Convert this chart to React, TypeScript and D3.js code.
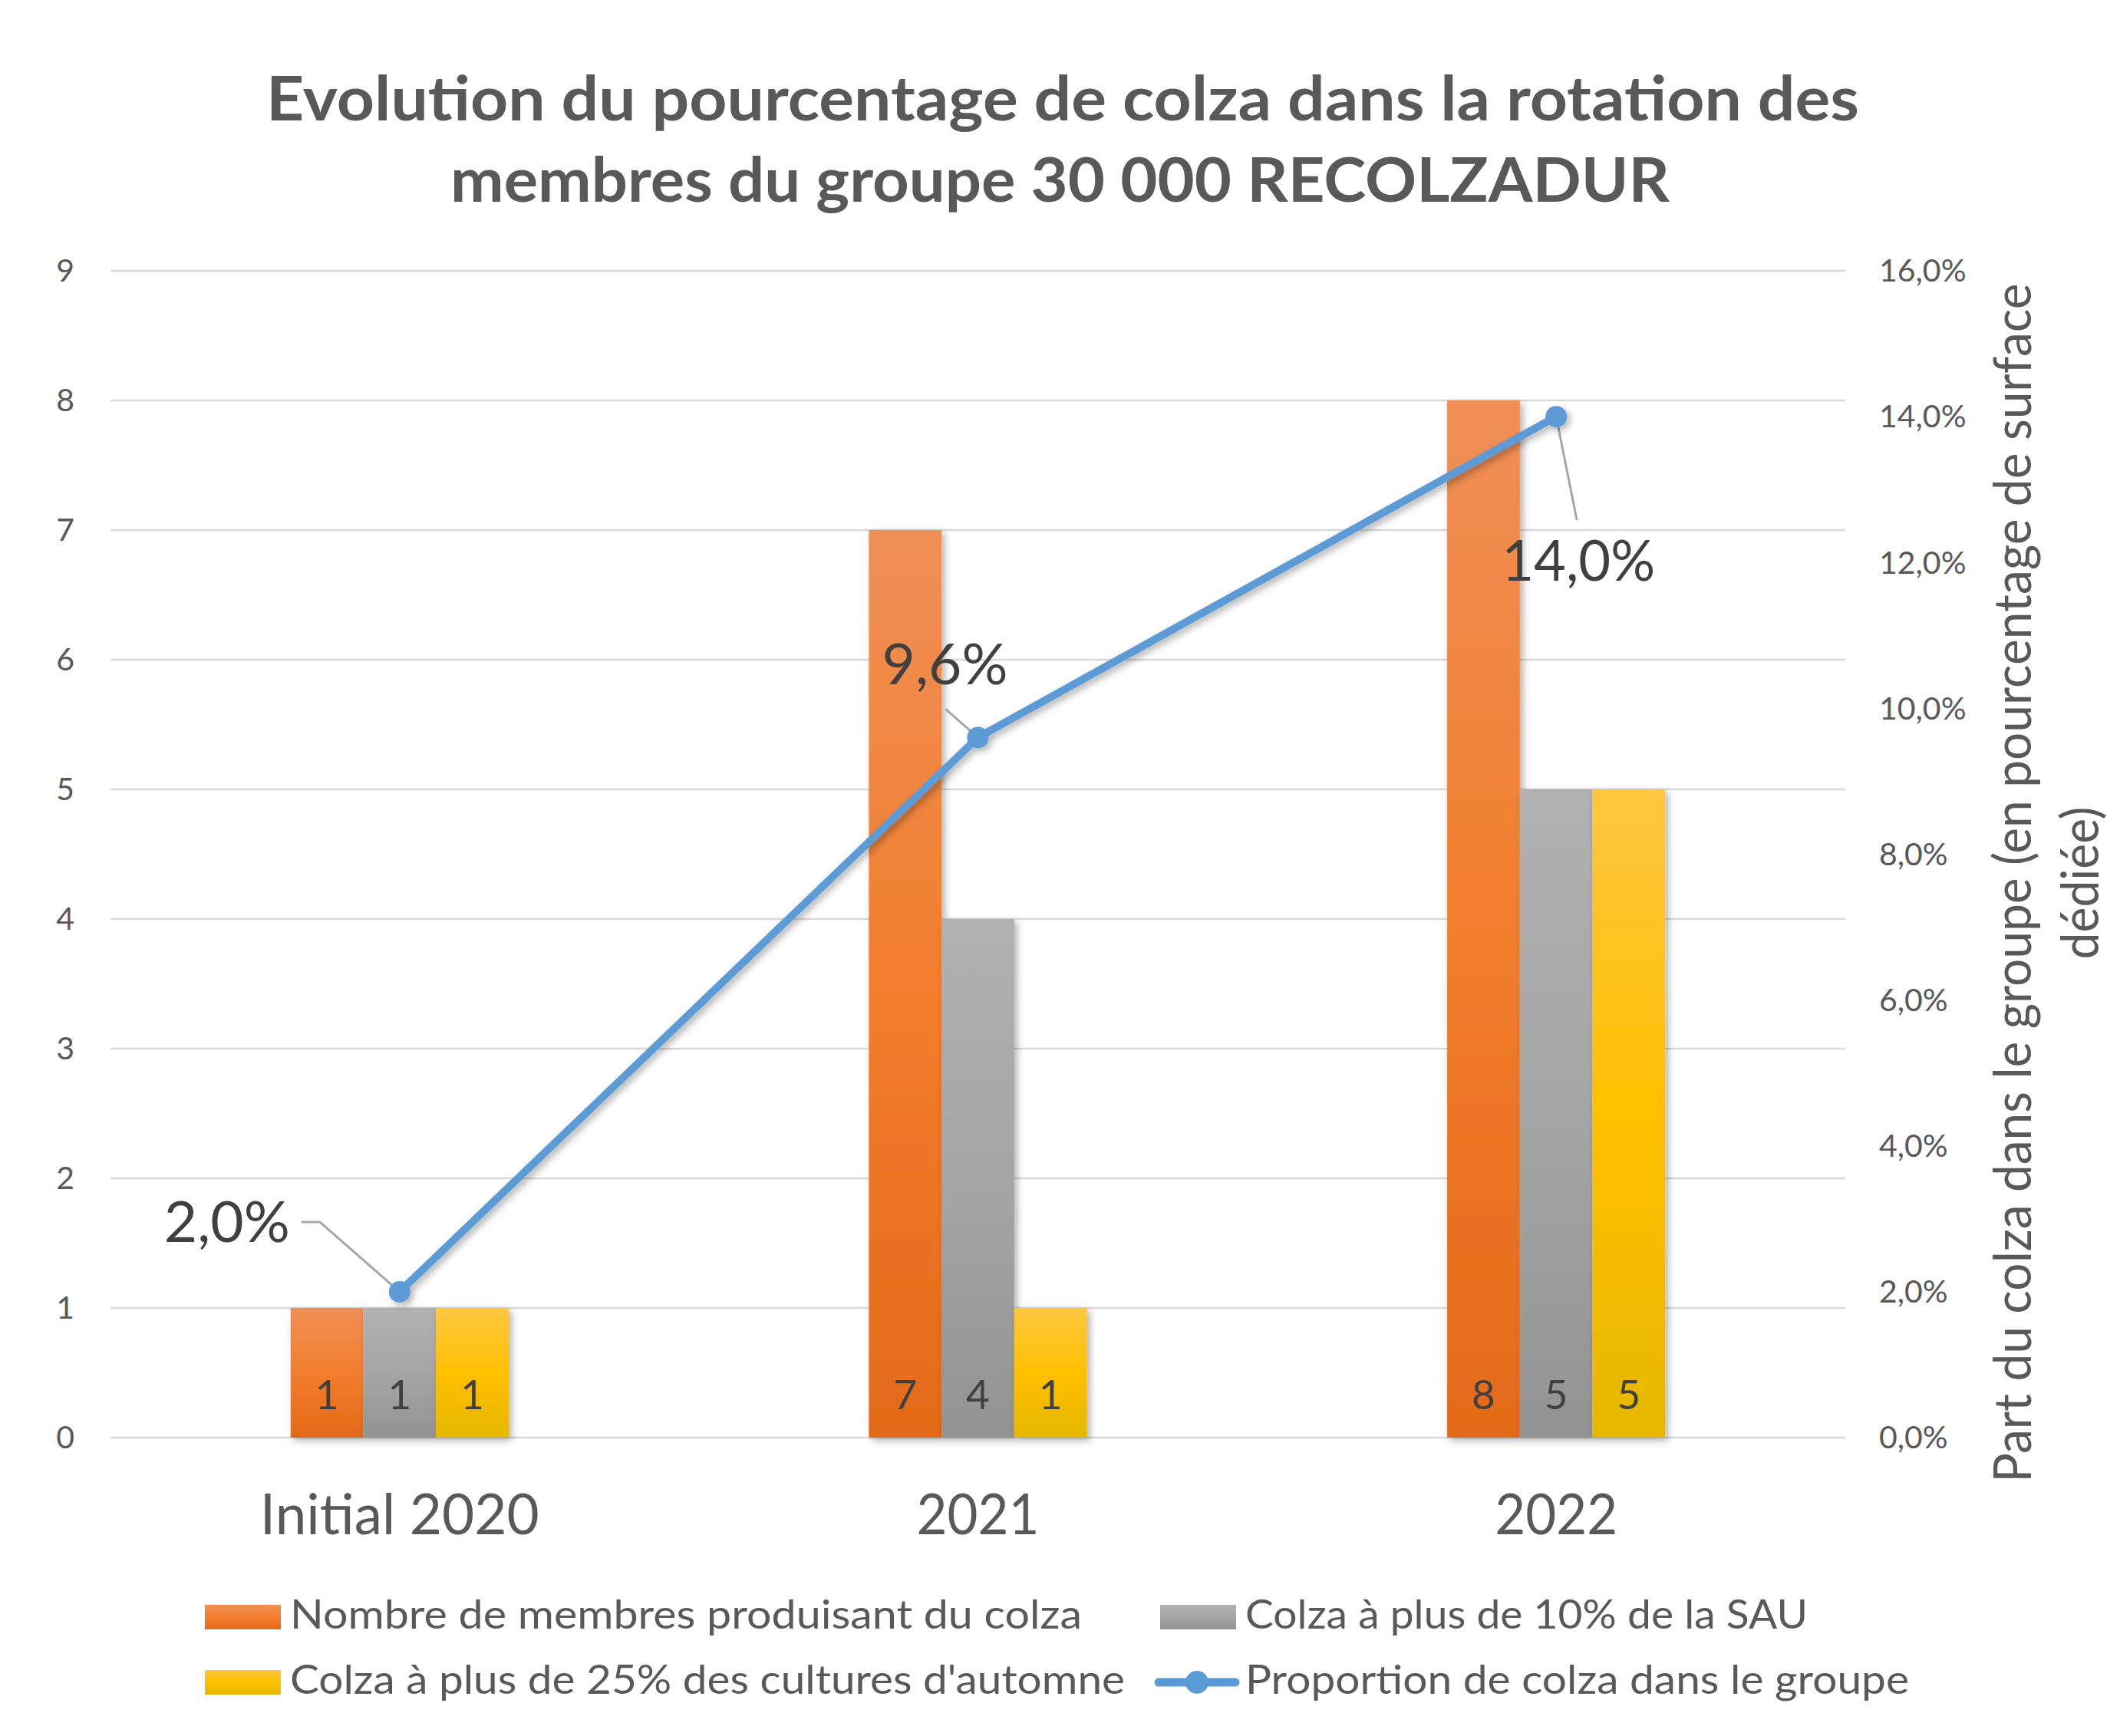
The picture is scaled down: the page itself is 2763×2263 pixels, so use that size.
import React from "react";
import * as d3 from "d3";

const categories = ["Initial 2020", "2021", "2022"];
const seriesNames = [
  "Nombre de membres produisant du colza",
  "Colza à plus de 10% de la SAU",
  "Colza à plus de 25% des cultures d'automne",
];
const membres = [1, 7, 8];
const plus10 = [1, 4, 5];
const plus25 = [1, 1, 5];
const proportion = [0.02, 0.096, 0.14];
const lineName = "Proportion de colza dans le groupe";
const leftTicks = [0, 1, 2, 3, 4, 5, 6, 7, 8, 9];
const rightTicks = [0, 0.02, 0.04, 0.06, 0.08, 0.1, 0.12, 0.14, 0.16];
const titleLines = [
  "Evolution du pourcentage de colza dans la rotation des",
  "membres du groupe 30 000 RECOLZADUR",
];
const axisTitleLines = ["Part du colza dans le groupe (en pourcentage de surface", "dédiée)"];

const W = 2763;
const H = 2263;
const FONT = "Lato, 'Open Sans', sans-serif";
const TXT = "#595959";
const DARK = "#404040";

const barSeries = [membres, plus10, plus25];
const gradIds = ["gOrange", "gGray", "gYellow"];

const fmtPct = (v: number) => d3.format(".1%")(v).replace(".", ",");

export default function App() {
  const plotL = 144, plotR = 2405, plotT = 353, plotB = 1874;
  const y = d3.scaleLinear().domain([0, 9]).range([plotB, plotT]);
  const y2 = d3.scaleLinear().domain([0, 0.16]).range([plotB, plotT]);
  const x0 = d3.scaleBand<string>().domain(categories).range([plotL, plotR]).paddingInner(0.623).paddingOuter(0.3115);
  const x1 = d3.scaleBand<string>().domain(seriesNames).range([0, x0.bandwidth()]);
  const cx = (c: string) => (x0(c) as number) + x0.bandwidth() / 2;

  const linePts: [number, number][] = categories.map((c, i) => [cx(c), y2(proportion[i])]);
  const lineGen = d3.line();

  // label layout (offsets relative to points)
  const lblLayouts = [
    { anchor: "end", dx: -143, dy: -65, leader: [[-128, -91], [-104, -91], [0, 0]] },
    { anchor: "middle", dx: -43, dy: -69, leader: [[-42, -37], [0, 0]] },
    { anchor: "middle", dx: 29, dy: 214, leader: [[0, 0], [27, 135]] },
  ];

  const legendItems = [
    { type: "bar", grad: gradIds[0], name: seriesNames[0], x: 267, row: 0, tl: 1032 },
    { type: "bar", grad: gradIds[1], name: seriesNames[1], x: 1512, row: 0, tl: 733 },
    { type: "bar", grad: gradIds[2], name: seriesNames[2], x: 267, row: 1, tl: 1088 },
    { type: "line", grad: "", name: lineName, x: 1505, row: 1, tl: 865 },
  ];
  const rowY = [2108, 2193];

  return (
    <svg width={W} height={H} style={{ position: "absolute", left: 0, top: 0, background: "#fff" }} fontFamily={FONT}>
      <defs>
        <linearGradient id="gOrange" x1="0" y1="0" x2="0" y2="1">
          <stop offset="0" stopColor="#F08F57" />
          <stop offset="0.5" stopColor="#F27E2D" />
          <stop offset="1" stopColor="#E36A18" />
        </linearGradient>
        <linearGradient id="gGray" x1="0" y1="0" x2="0" y2="1">
          <stop offset="0" stopColor="#B1B1B1" />
          <stop offset="0.5" stopColor="#A5A5A5" />
          <stop offset="1" stopColor="#939393" />
        </linearGradient>
        <linearGradient id="gYellow" x1="0" y1="0" x2="0" y2="1">
          <stop offset="0" stopColor="#FFC641" />
          <stop offset="0.5" stopColor="#FFC000" />
          <stop offset="1" stopColor="#E6B700" />
        </linearGradient>
        <filter id="shadow" x="-20%" y="-20%" width="140%" height="140%">
          <feDropShadow dx="4" dy="4" stdDeviation="5" floodColor="#000" floodOpacity="0.3" />
        </filter>
      </defs>
      <rect x={0} y={0} width={W} height={H} fill="#fff" />

      {/* Title */}
      {titleLines.map((t, i) => (
        <text key={i} x={i === 0 ? 1385 : 1381.5} y={i === 0 ? 157 : 263} textAnchor="middle" fontSize={81} fontWeight="bold" fill={TXT}
          textLength={i === 0 ? 2076 : 1589} lengthAdjust="spacingAndGlyphs">{t}</text>
      ))}

      {/* Gridlines */}
      {leftTicks.map((t) => (
        <line key={t} x1={plotL} x2={plotR} y1={y(t)} y2={y(t)} stroke="#D9D9D9" strokeWidth={2.5} />
      ))}

      {/* Left ticks */}
      {leftTicks.map((t) => (
        <text key={t} x={97} y={y(t)} dy="0.35em" textAnchor="end" fontSize={41} fill={TXT}>{t}</text>
      ))}
      {/* Right ticks */}
      {rightTicks.map((t) => (
        <text key={t} x={2449} y={y2(t)} dy="0.35em" textAnchor="start" fontSize={41} fill={TXT}>{fmtPct(t)}</text>
      ))}

      {/* Right axis title */}
      {axisTitleLines.map((t, i) => (
        <text key={i} transform={`translate(${2647 + i * 88},1151) rotate(-90)`} textAnchor="middle" fontSize={68} fill={TXT}
          textLength={i === 0 ? 1563 : 199} lengthAdjust="spacingAndGlyphs">{t}</text>
      ))}

      {/* Bars */}
      {categories.map((c, ci) => (
        <g key={c} transform={`translate(${x0(c)},0)`}>
          {seriesNames.map((s, si) => {
            const v = barSeries[si][ci];
            return (
              <rect key={s} x={x1(s)} y={y(v)} width={x1.bandwidth()} height={plotB - y(v)} fill={`url(#${gradIds[si]})`} filter="url(#shadow)" />
            );
          })}
        </g>
      ))}
      {categories.map((c, ci) => (
        <g key={c + "l"} transform={`translate(${x0(c)},0)`}>
          {seriesNames.map((s, si) => (
            <text key={s} x={(x1(s) as number) + x1.bandwidth() / 2} y={plotB - 37} textAnchor="middle" fontSize={53} fill={DARK}>
              {barSeries[si][ci]}
            </text>
          ))}
        </g>
      ))}

      {/* Category labels */}
      {categories.map((c) => (
        <text key={c} x={cx(c)} y={2000} textAnchor="middle" fontSize={73} fill={TXT}
          textLength={c.length > 4 ? 364 : 160} lengthAdjust="spacingAndGlyphs">{c}</text>
      ))}

      {/* Leader lines */}
      {linePts.map((p, i) => (
        <polyline key={i} points={lblLayouts[i].leader.map(([dx, dy]) => `${p[0] + dx},${p[1] + dy}`).join(" ")}
          fill="none" stroke="#A6A6A6" strokeWidth={3} />
      ))}

      {/* Line */}
      <g filter="url(#shadow)">
        <path d={lineGen(linePts) as string} fill="none" stroke="#5B9BD5" strokeWidth={10} strokeLinejoin="round" strokeLinecap="round" />
        {linePts.map((p, i) => (
          <circle key={i} cx={p[0]} cy={p[1]} r={14} fill="#5B9BD5" />
        ))}
      </g>

      {/* Line labels */}
      {linePts.map((p, i) => (
        <text key={i} x={p[0] + lblLayouts[i].dx} y={p[1] + lblLayouts[i].dy} textAnchor={lblLayouts[i].anchor as any} fontSize={74} fill={DARK}
          textLength={i === 2 ? 200 : 164} lengthAdjust="spacingAndGlyphs">{fmtPct(proportion[i])}</text>
      ))}

      {/* Legend */}
      {legendItems.map((it, i) => {
        const cy = rowY[it.row];
        return (
          <g key={i}>
            {it.type === "bar" ? (
              <rect x={it.x} y={cy - 16} width={99} height={32} fill={`url(#${it.grad})`} />
            ) : (
              <g>
                <line x1={it.x + 5} x2={it.x + 105} y1={cy} y2={cy} stroke="#5B9BD5" strokeWidth={11} strokeLinecap="round" />
                <circle cx={it.x + 55} cy={cy} r={15} fill="#5B9BD5" />
              </g>
            )}
            <text x={it.type === "bar" ? it.x + 111 : 1623} y={cy + 15} fontSize={53} fill={TXT} textLength={it.tl} lengthAdjust="spacingAndGlyphs">{it.name}</text>
          </g>
        );
      })}
    </svg>
  );
}
